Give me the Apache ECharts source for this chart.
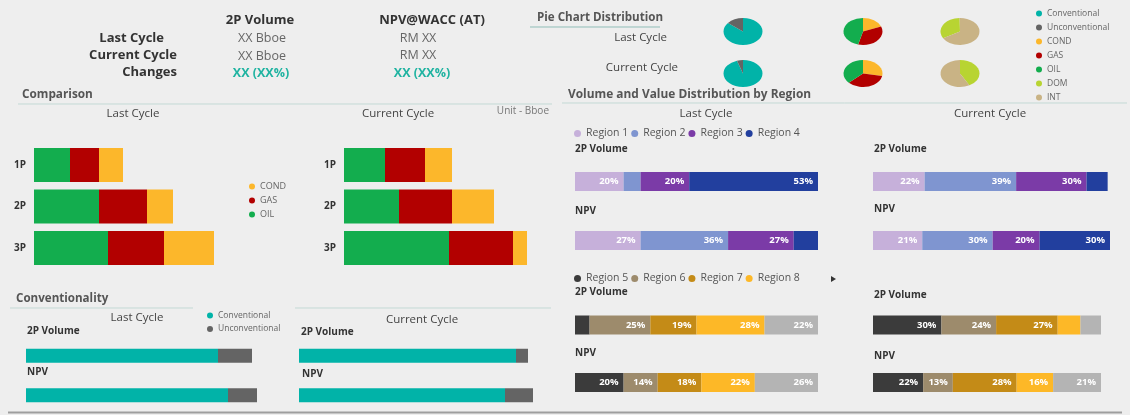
<!DOCTYPE html>
<html>
<head>
<meta charset="utf-8">
<script src="https://cdn.jsdelivr.net/npm/echarts@6/dist/echarts.min.js"></script>
<style>
  html, body { margin: 0; padding: 0; background: #eeeeee; }
  #chart { width: 1130px; height: 415px; }
</style>
</head>
<body>
<div id="chart"></div>
<script>
// ---- data ----
const reserveCats = ['1P', '2P', '3P'];
const lastOil = [3.6, 6.5, 7.4];
const lastGas = [2.9, 4.8, 5.6];
const lastCond = [2.4, 2.6, 5.0];
const curOil = [4.1, 5.5, 10.5];
const curGas = [4.0, 5.3, 6.4];
const curCond = [2.7, 4.2, 1.4];

const metricCats = ['2P Volume', 'NPV'];
const convLast = [19.2, 20.2];
const unconvLast = [3.4, 2.9];
const convCur = [21.7, 20.6];
const unconvCur = [1.2, 2.8];

const regionsA = ['Region 1', 'Region 2', 'Region 3', 'Region 4'];
const regALast2P = [20, 7, 20, 53];
const regALastNPV = [27, 36, 27, 10];
const regACur2P = [22, 39, 30, 9];
const regACurNPV = [21, 30, 20, 30];

const regionsB = ['Region 5', 'Region 6', 'Region 7', 'Region 8', 'Region 9'];
const regBLast2P = [6, 25, 19, 28, 22];
const regBLastNPV = [20, 14, 18, 22, 26];
const regBCur2P = [30, 24, 27, 10, 9];
const regBCurNPV = [22, 13, 28, 16, 21];

const pieTypeNames = ['Conventional', 'Unconventional'];
const pieTypeLast = [86, 14];
const pieTypeCur = [95, 5];
const pieFluidNames = ['COND', 'GAS', 'OIL'];
const pieFluidLast = [19, 35, 46];
const pieFluidCur = [28, 35, 37];
const pieMarketNames = ['DOM', 'INT'];
const pieMarketLast = [33, 67];
const pieMarketCur = [42, 58];

// ---- styling ----
const FONT = '"Open Sans", sans-serif';
const COLORS = {
  OIL: '#13ad4e', GAS: '#b20000', COND: '#fcb72b',
  Conventional: '#01b3a8', Unconventional: '#646464',
  DOM: '#b8d432', INT: '#c9b385',
  'Region 1': '#c6b0da', 'Region 2': '#7f95d0', 'Region 3': '#7b3ba7', 'Region 4': '#223f9e',
  'Region 5': '#3b3b3b', 'Region 6': '#9d8b6c', 'Region 7': '#c48b17', 'Region 8': '#fdb827', 'Region 9': '#b4b4b4'
};
const TEAL = '#1fb3a1';

const PIE_X = [743, 863, 960];
const PIE_Y = [31.5, 73.5];
const PIE_R = 19.5;
const PIE_SY = 0.69;
const PIE_START = [[0, 0], [0, 0], [240, 0]];

function txt(x, y, text, font, fill, align) {
  return {
    type: 'text', x: x, y: y, silent: true,
    style: {
      text: text, font: font + ' ' + FONT, fill: fill,
      align: align || 'left', verticalAlign: 'middle',
      textAlign: align || 'left', textVerticalAlign: 'middle'
    }
  };
}
function hline(x1, x2, y, color, w) {
  return { type: 'line', silent: true, shape: { x1: x1, y1: y, x2: x2, y2: y }, style: { stroke: color, lineWidth: w || 1 } };
}

const chart = echarts.init(document.getElementById('chart'), null, { renderer: 'canvas' });

// ---- grids / axes ----
const grids = [
  { left: 34, top: 144.25, width: 200, height: 124.5 },   // 0 comparison last
  { left: 344, top: 144.25, width: 200, height: 124.5 },  // 1 comparison current
  { left: 26, top: 336, width: 240, height: 84 },         // 2 conv last
  { left: 299, top: 336, width: 240, height: 84 },        // 3 conv current
  { left: 575, top: 152, width: 243, height: 118 },       // 4 region A last
  { left: 873, top: 152, width: 237, height: 118 },       // 5 region A current
  { left: 575, top: 296.25, width: 243, height: 115 },    // 6 region B last
  { left: 873, top: 296.25, width: 228, height: 115 }     // 7 region B current
];
const sum = a => a.reduce((s, v) => s + v, 0);
const xMax = [20, 20, 24, 24,
  Math.max(sum(regALast2P), sum(regALastNPV)), Math.max(sum(regACur2P), sum(regACurNPV)),
  Math.max(sum(regBLast2P), sum(regBLastNPV)), Math.max(sum(regBCur2P), sum(regBCurNPV))];

const xAxes = grids.map((g, i) => ({ gridIndex: i, type: 'value', min: 0, max: xMax[i], show: false }));
const yAxes = grids.map((g, i) => {
  const isCmp = i < 2;
  return {
    gridIndex: i, type: 'category', inverse: true,
    data: isCmp ? reserveCats : metricCats,
    show: isCmp,
    axisLine: { show: false }, axisTick: { show: false }, splitLine: { show: false },
    axisLabel: { show: isCmp, fontSize: 10, fontWeight: 'bold', color: '#333', margin: 8, fontFamily: FONT }
  };
});

// ---- series ----
const series = [];
function bar(name, grid, stack, data, width, label) {
  series.push({
    type: 'bar', name: name, xAxisIndex: grid, yAxisIndex: grid, stack: stack,
    barWidth: width, silent: true, itemStyle: { color: COLORS[name] },
    label: label || { show: false },
    data: data
  });
}
bar('OIL', 0, 'c0', lastOil, 34);
bar('GAS', 0, 'c0', lastGas, 34);
bar('COND', 0, 'c0', lastCond, 34);
bar('OIL', 1, 'c1', curOil, 34);
bar('GAS', 1, 'c1', curGas, 34);
bar('COND', 1, 'c1', curCond, 34);

bar('Conventional', 2, 'v2', convLast, 14);
bar('Unconventional', 2, 'v2', unconvLast, 14);
bar('Conventional', 3, 'v3', convCur, 14);
bar('Unconventional', 3, 'v3', unconvCur, 14);

const pctLabel = {
  show: true, position: 'insideRight', distance: 5, formatter: '{c}%',
  color: '#ffffff', fontSize: 9.5, fontWeight: 'bold', fontFamily: FONT
};
function regionBars(names, grid, vol, npv) {
  names.forEach((n, i) => {
    // small segments carry no label, as in the source dashboard
    const d = [vol[i], npv[i]].map(v => ({ value: v, label: { show: v > 10 } }));
    bar(n, grid, 'r' + grid, d, 19, pctLabel);
  });
}
regionBars(regionsA, 4, regALast2P, regALastNPV);
regionBars(regionsA, 5, regACur2P, regACurNPV);
regionBars(regionsB, 6, regBLast2P, regBLastNPV);
regionBars(regionsB, 7, regBCur2P, regBCurNPV);

// pies: elliptical slices drawn with custom series
const pieGroups = [
  { names: pieTypeNames, values: [pieTypeLast, pieTypeCur] },
  { names: pieFluidNames, values: [pieFluidLast, pieFluidCur] },
  { names: pieMarketNames, values: [pieMarketLast, pieMarketCur] }
];
const pieData = {};
pieGroups.forEach((g, col) => g.values.forEach((vals, row) => {
  const total = sum(vals);
  let a = PIE_START[col][row];
  vals.forEach((v, i) => {
    const a1 = a + v / total * 360;
    (pieData[g.names[i]] = pieData[g.names[i]] || []).push([col, row, a, a1, v]);
    a = a1;
  });
}));
const pieLegend = ['Conventional', 'Unconventional', 'COND', 'GAS', 'OIL', 'DOM', 'INT'];
pieLegend.forEach(name => {
  series.push({
    type: 'custom', name: name, coordinateSystem: 'none', silent: true,
    itemStyle: { color: COLORS[name] },
    data: pieData[name],
    renderItem(params, api) {
      const col = api.value(0), row = api.value(1);
      const a0 = (api.value(2) - 90) * Math.PI / 180;
      const a1 = (api.value(3) - 90) * Math.PI / 180;
      return {
        type: 'sector', x: PIE_X[col], y: PIE_Y[row], scaleY: PIE_SY,
        shape: { cx: 0, cy: 0, r0: 0, r: PIE_R, startAngle: a0, endAngle: a1, clockwise: true },
        style: { fill: api.visual('color') }
      };
    }
  });
});

// ---- legends ----
const smallLegend = { fontSize: 8.5, color: '#666', fontFamily: FONT };
const legends = [
  { data: regionsA, left: 574, top: 128, icon: 'circle', itemWidth: 7, itemHeight: 7, itemGap: 3, padding: 0,
    textStyle: { fontSize: 10.5, color: '#555', fontFamily: FONT } },
  { data: regionsB.slice(0, 4), left: 574, top: 273, icon: 'circle', itemWidth: 7, itemHeight: 7, itemGap: 3, padding: 0,
    textStyle: { fontSize: 10.5, color: '#555', fontFamily: FONT } },
  { data: ['COND', 'GAS', 'OIL'], orient: 'vertical', left: 249, top: 182, icon: 'circle', itemWidth: 6, itemHeight: 6,
    itemGap: 5, padding: 0, textStyle: { fontSize: 9, color: '#666', fontFamily: FONT } },
  { data: ['Conventional', 'Unconventional'], orient: 'vertical', left: 207, top: 311, icon: 'circle', itemWidth: 6, itemHeight: 6,
    itemGap: 4.5, padding: 0, textStyle: smallLegend },
  { data: pieLegend, orient: 'vertical', left: 1036, top: 9, icon: 'circle', itemWidth: 6, itemHeight: 6,
    itemGap: 5, padding: 0, textStyle: smallLegend }
];

// ---- static texts / rules ----
const graphic = [
  // header table
  txt(260, 20, '2P Volume', 'bold 13px', '#333', 'center'),
  txt(432, 20, 'NPV@WACC (AT)', 'bold 13px', '#333', 'center'),
  txt(164, 38, 'Last Cycle', 'bold 13px', '#333', 'right'),
  txt(177, 55, 'Current Cycle', 'bold 13px', '#333', 'right'),
  txt(177, 72, 'Changes', 'bold 13px', '#333', 'right'),
  txt(262, 38, 'XX Bboe', '12.5px', '#666', 'center'),
  txt(262, 56, 'XX Bboe', '12.5px', '#666', 'center'),
  txt(261, 73, 'XX (XX%)', 'bold 12.5px', TEAL, 'center'),
  txt(418, 38, 'RM XX', '12.5px', '#666', 'center'),
  txt(418, 55, 'RM XX', '12.5px', '#666', 'center'),
  txt(422, 73, 'XX (XX%)', 'bold 12.5px', TEAL, 'center'),

  // pie block
  txt(537, 18, 'Pie Chart Distribution', 'bold 11.6px', '#555'),
  hline(530, 660, 27, '#8fbdb7'),
  txt(667, 38, 'Last Cycle', '11.5px', '#444', 'right'),
  txt(678, 68, 'Current Cycle', '11.5px', '#444', 'right'),

  // comparison
  txt(22, 95, 'Comparison', 'bold 11.8px', '#555'),
  hline(18, 552, 104, '#c3d9d5'),
  txt(133, 114, 'Last Cycle', '11.5px', '#444', 'center'),
  txt(398, 114, 'Current Cycle', '11.5px', '#444', 'center'),
  txt(549, 111, 'Unit - Bboe', '10px', '#777', 'right'),

  // conventionality
  txt(16, 299, 'Conventionality', 'bold 11.6px', '#555'),
  hline(10, 193, 308, '#c3d9d5'),
  hline(295, 551, 308, '#c3d9d5'),
  txt(137, 318, 'Last Cycle', '11.5px', '#444', 'center'),
  txt(422, 320, 'Current Cycle', '11.5px', '#444', 'center'),
  txt(27, 331, '2P Volume', 'bold 10px', '#333'),
  txt(301, 332, '2P Volume', 'bold 10px', '#333'),
  txt(27, 372, 'NPV', 'bold 10px', '#333'),
  txt(302, 374, 'NPV', 'bold 10px', '#333'),

  // region
  txt(568, 95, 'Volume and Value Distribution by Region', 'bold 11.9px', '#555'),
  hline(562, 1127, 103, '#c3d9d5'),
  txt(706, 114, 'Last Cycle', '11.5px', '#444', 'center'),
  txt(990, 114, 'Current Cycle', '11.5px', '#444', 'center'),
  txt(575, 149, '2P Volume', 'bold 10px', '#333'),
  txt(575, 211, 'NPV', 'bold 10px', '#333'),
  txt(874, 149, '2P Volume', 'bold 10px', '#333'),
  txt(874, 209, 'NPV', 'bold 10px', '#333'),
  txt(575, 292, '2P Volume', 'bold 10px', '#333'),
  txt(575, 353, 'NPV', 'bold 10px', '#333'),
  txt(874, 295, '2P Volume', 'bold 10px', '#333'),
  txt(874, 356, 'NPV', 'bold 10px', '#333'),
  { type: 'polygon', silent: true, shape: { points: [[831, 276], [836, 279], [831, 282]] }, style: { fill: '#333' } },

  // bottom frame shadow
  hline(8, 1122, 412.5, '#9e9e9e', 2)
];

chart.setOption({
  backgroundColor: '#eeeeee',
  animation: false,
  textStyle: { fontFamily: FONT },
  tooltip: { show: false },
  legend: legends,
  grid: grids,
  xAxis: xAxes,
  yAxis: yAxes,
  series: series,
  graphic: graphic
});
window.addEventListener('resize', () => chart.resize());
</script>
</body>
</html>
